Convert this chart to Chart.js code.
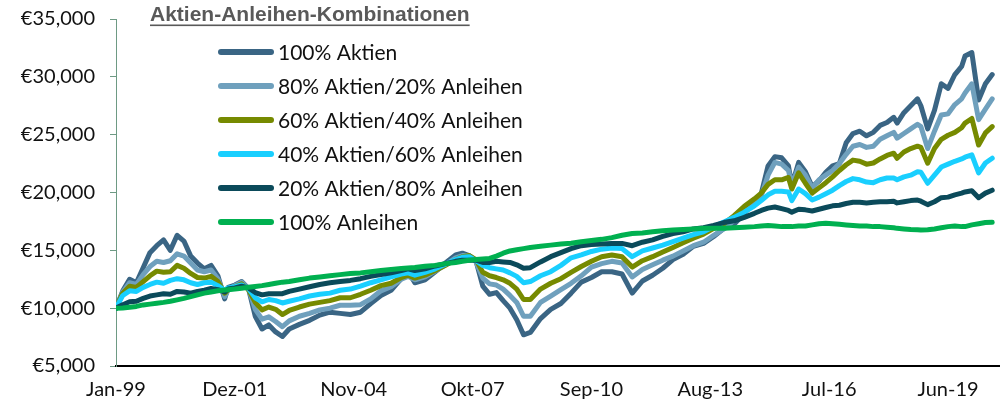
<!DOCTYPE html>
<html lang="de">
<head>
<meta charset="UTF-8">
<title>Aktien-Anleihen-Kombinationen</title>
<script src="https://cdn.jsdelivr.net/npm/chart.js"></script>
<style>
  html, body { margin: 0; padding: 0; background: #fff; }
</style>
</head>
<body>
<canvas id="kombiChart" width="1001" height="404"></canvas>
<script>
// month index since Jan-99
const months = [0,2,4,6,8,10,12,14,16,18,
  20,22,24,26,28,30,32,33,35,37,
  39,41,43,45,47,49,51,54,57,60,
  63,66,69,72,75,78,81,84,86,88,
  91,94,97,100,102,104,106,108,110,112,
  114,116,118,120,122,125,128,131,134,137,
  140,143,146,149,152,155,158,161,164,167,
  170,173,176,179,182,185,188,190,192,194,
  196,198,199,201,203,205,207,209,211,213,
  215,217,219,221,223,225,227,229,230,232,
  234,236,237,239,241,243,245,247,249,250,
  252,254,256,258];

const aktien100 = [10000,11500,12500,12200,13500,14800,15400,15900,15000,16300,
  15800,14500,13900,13400,13700,12800,10800,11800,12000,12300,
  11700,9300,8200,8550,7950,7550,8200,8600,8950,9400,
  9650,9550,9450,9650,10400,11100,11550,12550,13200,12200,
  12450,13150,13900,14600,14750,14550,14100,11900,11200,11350,
  10650,10000,9000,7700,7900,9100,9900,10400,11300,12250,
  12650,13150,13150,12950,11300,12350,12850,13450,14200,14650,
  15350,15600,16200,16900,17250,18200,19200,19900,22300,23100,
  23000,22300,20600,22600,21800,20500,21000,21750,22300,22500,
  24300,25100,25300,24900,25200,25800,26050,26500,26000,26900,
  27500,28100,27500,25500,27100,29400,29000,30200,30900,31800,
  32100,28000,29400,30200];

const aktien80 = [10000,11400,12200,12050,12900,13600,14050,13950,14100,14700,
  14500,13900,13300,13150,13300,12550,11000,11550,11950,12250,
  11700,9900,9050,9250,8850,8400,8900,9300,9550,9850,
  10000,10250,10250,10300,10800,11500,11850,12500,12750,12450,
  12700,13200,13750,14350,14550,14550,14000,12600,12100,12000,
  11650,11100,10500,9300,9300,10500,11050,11600,12150,12800,
  13550,13850,14050,13900,12700,13350,13750,14150,14500,14950,
  15400,15700,16300,16850,17600,18550,19200,19700,21500,22600,
  22450,21900,20700,22200,21500,20400,21100,21500,21900,22500,
  23300,24000,24150,23900,24000,24600,24900,25200,24700,25100,
  25500,25900,25700,23800,25300,26700,26800,27600,28100,28600,
  29400,26300,27200,28100];

const aktien60 = [10000,11300,11900,11800,12300,12800,13200,13100,13150,13700,
  13450,13000,12650,12600,12750,12300,11300,11600,11850,12100,
  11600,10500,9850,10100,9900,9450,9800,10100,10350,10500,
  10650,10900,10900,11200,11550,11950,12150,12650,12850,12600,
  12850,13250,13700,14200,14450,14550,14200,13100,12800,12650,
  12450,12150,11650,10750,10750,11650,12150,12550,13100,13600,
  14050,14450,14600,14450,13550,14100,14450,14850,15250,15650,
  16050,16400,16900,17300,18000,18800,19450,19950,20700,21100,
  21100,21300,20300,21700,20800,19950,20400,20850,21350,21900,
  22400,22800,22700,22450,22550,22900,23200,23400,22960,23500,
  23800,24000,23900,22530,23800,24600,24950,25200,25600,26000,
  26400,24100,25150,25700];

const aktien40 = [10000,11100,11500,11450,11800,12050,12250,12150,12400,12550,
  12450,12200,12050,12200,12250,11950,11550,11750,11850,12000,
  11700,10900,10550,10750,10650,10450,10600,10800,11050,11200,
  11300,11550,11650,11900,12200,12450,12700,12950,13050,12850,
  13100,13400,13800,14200,14400,14450,14100,13700,13500,13400,
  13300,13050,12750,12200,12300,12800,13150,13700,14350,14600,
  14900,15100,15200,15150,14450,14950,15200,15450,15750,16050,
  16350,16600,17050,17450,17850,18300,18850,19300,19800,20100,
  20100,20050,19300,20300,19900,19350,19600,19900,20200,20600,
  20950,21200,21100,20900,20850,21100,21250,21250,21100,21350,
  21500,21800,21750,20800,21500,22200,22450,22700,22900,23050,
  23250,21700,22550,22960];

const aktien20 = [10000,10300,10550,10600,10850,11050,11150,11250,11200,11450,
  11400,11300,11450,11550,11700,11600,11400,11650,11750,11900,
  11750,11350,11150,11250,11250,11250,11450,11650,11850,12050,
  12200,12300,12400,12550,12750,12900,13050,13250,13400,13250,
  13400,13650,13850,14050,14150,14150,14150,13950,13950,14050,
  14000,13950,13750,13450,13500,14000,14450,14800,15150,15400,
  15500,15550,15600,15600,15400,15700,15900,16200,16450,16600,
  16850,16950,17150,17400,17550,17850,18200,18450,18650,18750,
  18600,18450,18300,18550,18500,18400,18550,18700,18850,18900,
  19050,19150,19150,19100,19150,19200,19200,19250,19100,19200,
  19300,19350,19250,18950,19200,19550,19600,19800,19950,20050,
  20150,19550,19950,20200];

const anleihen100 = [10000,10020,10080,10150,10280,10350,10420,10500,10600,10720,
  10850,11000,11150,11300,11400,11500,11570,11600,11650,11720,
  11800,11880,11950,12050,12150,12250,12300,12450,12600,12700,
  12800,12900,13000,13050,13150,13250,13350,13420,13470,13520,
  13620,13700,13850,13950,14050,14150,14200,14250,14300,14500,
  14750,14950,15050,15150,15250,15350,15450,15550,15620,15750,
  15850,15950,16100,16300,16450,16500,16600,16700,16750,16800,
  16850,16900,16900,16900,16950,17000,17050,17100,17150,17100,
  17050,17050,17050,17100,17100,17200,17300,17350,17300,17250,
  17200,17150,17100,17100,17050,17050,17000,16950,16900,16850,
  16800,16780,16760,16780,16850,16950,17050,17100,17050,17050,
  17200,17300,17400,17420];

const seriesNames = ['100% Aktien', '80% Aktien/20% Anleihen', '60% Aktien/40% Anleihen',
  '40% Aktien/60% Anleihen', '20% Aktien/80% Anleihen', '100% Anleihen'];
const seriesColors = ['#3A6584', '#6FA0BD', '#768A00', '#19CFFF', '#0B4A5A', '#00B050'];
const allSeries = [aktien100, aktien80, aktien60, aktien40, aktien20, anleihen100];

const tickMonths = [0, 35, 70, 105, 140, 175, 210, 245];
const tickLabels = ['Jan-99', 'Dez-01', 'Nov-04', 'Okt-07', 'Sep-10', 'Aug-13', 'Jul-16', 'Jun-19'];
const chartTitle = 'Aktien-Anleihen-Kombinationen';

const FONT = 'Lato, "Open Sans", sans-serif';

const legendPlugin = {
    id: 'kombiLegend',
    afterDraw(chart) {
        const ctx = chart.ctx;
        ctx.save();
        // title, bold + underlined
        ctx.font = 'bold 21px "Liberation Sans", Arial, sans-serif';
        ctx.fillStyle = '#595959';
        ctx.textBaseline = 'alphabetic';
        ctx.fillText(chartTitle, 150, 21);
        const tw = ctx.measureText(chartTitle).width;
        ctx.fillRect(150, 24.5, tw, 1.6);

        ctx.font = '21px ' + FONT;
        ctx.textBaseline = 'middle';
        seriesNames.forEach((name, i) => {
            const y = 52 + i * 34;
            ctx.strokeStyle = seriesColors[i];
            ctx.lineWidth = 6;
            ctx.lineCap = 'round';
            ctx.beginPath();
            ctx.moveTo(221, y);
            ctx.lineTo(271, y);
            ctx.stroke();
            ctx.fillStyle = '#111';
            ctx.fillText(name, 278, y + 1);
        });
        ctx.restore();
    }
};

const datasets = allSeries.map((vals, i) => ({
    label: seriesNames[i],
    data: vals.map((v, j) => ({ x: months[j], y: v })),
    borderColor: seriesColors[i],
    backgroundColor: seriesColors[i],
    borderWidth: 5,
    pointRadius: 0,
    tension: 0,
    borderJoinStyle: 'round',
    borderCapStyle: 'round',
    order: allSeries.length - i
}));

const ctx = document.getElementById('kombiChart').getContext('2d');
new Chart(ctx, {
    type: 'line',
    data: { datasets: datasets },
    options: {
        responsive: false,
        animation: false,
        devicePixelRatio: 1,
        layout: { padding: { top: 19, right: 2, left: 0, bottom: 0 } },
        plugins: {
            legend: { display: false },
            tooltip: { enabled: false }
        },
        scales: {
            x: {
                type: 'linear',
                min: 0,
                max: 260,
                afterBuildTicks: (scale) => {
                    scale.ticks = tickMonths.map(v => ({ value: v }));
                },
                afterFit: (scale) => { scale.height = 38; },
                grid: { display: false, drawTicks: false },
                border: { display: true, color: '#000', width: 2 },
                ticks: {
                    autoSkip: false,
                    maxRotation: 0,
                    padding: 12,
                    color: '#111',
                    font: { family: FONT, size: 20 },
                    callback: (v) => tickLabels[tickMonths.indexOf(v)]
                }
            },
            y: {
                min: 5000,
                max: 35000,
                afterFit: (scale) => {
                    scale.width = 116;
                    scale.paddingTop = 0;
                    scale.paddingBottom = 0;
                },
                grid: {
                    drawOnChartArea: false,
                    drawTicks: true,
                    tickLength: 6,
                    color: '#6E9A84'
                },
                border: { display: true, color: '#6E9A84', width: 1 },
                ticks: {
                    stepSize: 5000,
                    padding: 15,
                    color: '#111',
                    font: { family: FONT, size: 20 },
                    callback: (v) => '€' + v.toLocaleString('en-US')
                }
            }
        }
    },
    plugins: [legendPlugin]
});
</script>
</body>
</html>
